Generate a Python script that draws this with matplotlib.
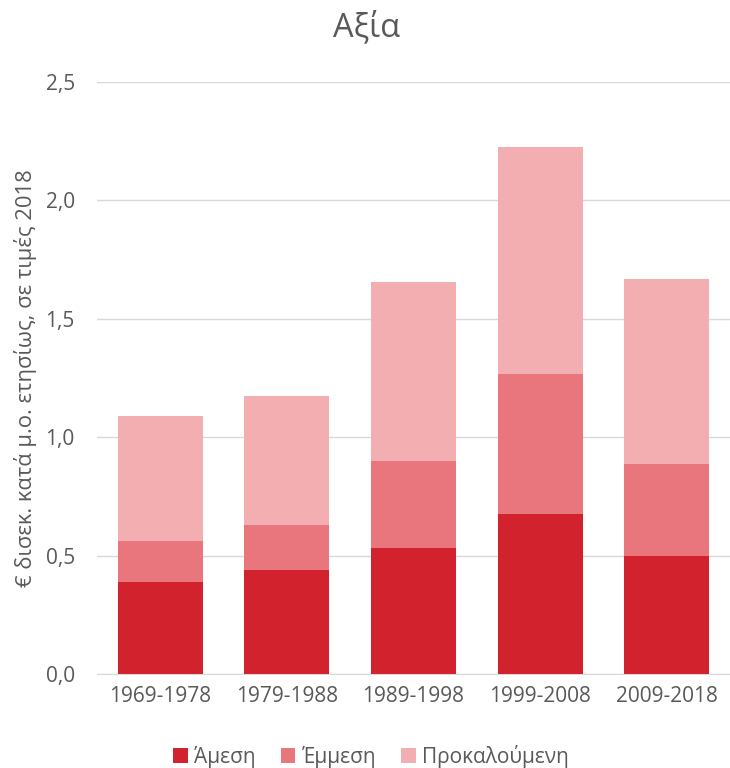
import matplotlib.pyplot as plt
import numpy as np

periods = ["1969-1978", "1979-1988", "1989-1998", "1999-2008", "2009-2018"]
direct = [0.39, 0.44, 0.53, 0.675, 0.50]
indirect = [0.17, 0.19, 0.37, 0.59, 0.385]
induced = [0.53, 0.545, 0.755, 0.96, 0.785]

COLORS = ["#D2222D", "#E8767C", "#F2AEB1"]
LABELS = ["Άμεση", "Έμμεση", "Προκαλούμενη"]
TEXT = "#595959"

plt.rcParams["font.family"] = ["Open Sans", "DejaVu Sans"]

fig = plt.figure(figsize=(7.3, 7.68), dpi=100)
ax = fig.add_axes([97 / 730, 1 - 674 / 768, 633 / 730, (674 - 82) / 768])

x = np.arange(len(periods))
bottom = np.zeros(len(periods))
for vals, col, lab in zip([direct, indirect, induced], COLORS, LABELS):
    ax.bar(x, vals, width=0.67, bottom=bottom, color=col, label=lab, zorder=3)
    bottom += np.array(vals)

ax.set_xlim(-0.5, len(periods) - 0.5)
ax.set_ylim(0, 2.5)
ax.set_yticks(np.arange(0, 2.51, 0.5))
ax.set_yticklabels([f"{v:.1f}".replace(".", ",") for v in np.arange(0, 2.51, 0.5)])
ax.set_xticks(x)
ax.set_xticklabels(periods)
ax.tick_params(axis="both", length=0, labelsize=15, colors=TEXT)
ax.tick_params(axis="x", pad=9)
ax.tick_params(axis="y", pad=16)
ax.yaxis.grid(True, color="#D9D9D9", linewidth=1, zorder=0)
for s in ["top", "right", "left"]:
    ax.spines[s].set_visible(False)
ax.spines["bottom"].set_color("#D9D9D9")

ax.set_ylabel("€ δισεκ. κατά μ.ο. ετησίως, σε τιμές 2018", fontsize=15.8, color=TEXT, labelpad=6)
fig.text(367 / 730, 1 - 27 / 768, "Αξία", ha="center", va="center", fontsize=23.5, color=TEXT)

fig.legend(loc="center", bbox_to_anchor=(371 / 730, 1 - 756 / 768), ncol=3, frameon=False,
           fontsize=15, handlelength=0.7, handleheight=0.7, handletextpad=0.3, columnspacing=1.2,
           labelcolor=TEXT)

fig.savefig("out.png", dpi=100)
